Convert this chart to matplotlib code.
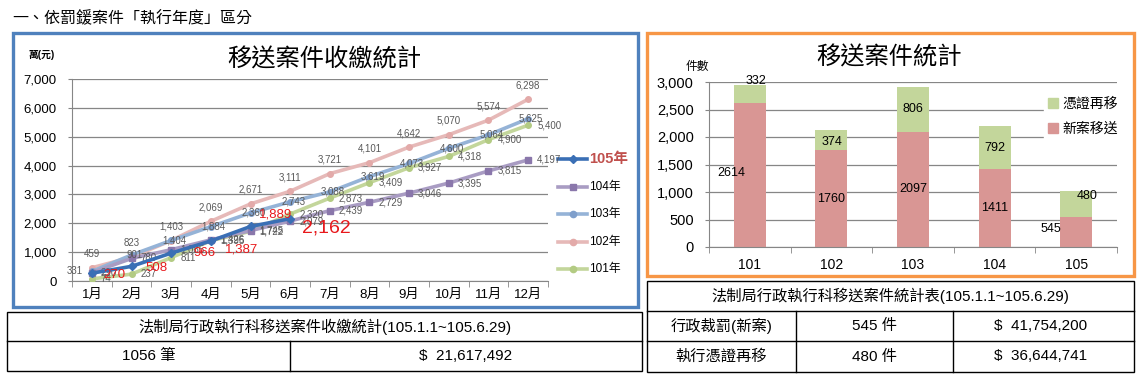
import matplotlib
matplotlib.use('Agg')
import matplotlib.pyplot as plt
from matplotlib.patches import Rectangle, Patch
import numpy as np

plt.rcParams['font.family'] = ['Liberation Sans', 'Noto Sans CJK TC', 'DejaVu Sans']

W, H = 1139, 379

# ---- 資料 ----
months = ['1月', '2月', '3月', '4月', '5月', '6月', '7月', '8月', '9月', '10月', '11月', '12月']
y101 = [74, 237, 811, 1395, 1722, 2320, 2873, 3409, 3927, 4318, 4900, 5400]
y102 = [459, 823, 1403, 2069, 2671, 3111, 3721, 4101, 4642, 5070, 5574, 6298]
y103 = [331, 901, 1404, 1884, 2360, 2743, 3088, 3619, 4073, 4600, 5064, 5625]
y104 = [290, 780, 1085, 1426, 1745, 2079, 2439, 2729, 3046, 3395, 3815, 4197]
y105 = [270, 508, 966, 1387, 1889, 2162]

bar_years = ['101', '102', '103', '104', '105']
new_cases = [2614, 1760, 2097, 1411, 545]
re_cases = [332, 374, 806, 792, 480]

table1_title = '法制局行政執行科移送案件收繳統計(105.1.1~105.6.29)'
table1_row = ['1056 筆', '$  21,617,492']
table2_title = '法制局行政執行科移送案件統計表(105.1.1~105.6.29)'
table2_rows = [['行政裁罰(新案)', '545 件', '$  41,754,200'],
               ['執行憑證再移', '480 件', '$  36,644,741']]

PX = 0.72  # 1 px in points at dpi 100
GRID = '#868686'


def box(x0, y0, x1, y1):
    return [x0 / W, 1 - y1 / H, (x1 - x0) / W, (y1 - y0) / H]


fig = plt.figure(figsize=(W / 100, H / 100), dpi=100)

# 底層：像素座標的繪圖層（框線、表格、文字）
ov = fig.add_axes([0, 0, 1, 1], zorder=0)
ov.set_xlim(0, W)
ov.set_ylim(H, 0)
ov.axis('off')

ov.text(12, 17, '一、依罰鍰案件「執行年度」區分', fontsize=11.5, va='center', ha='left')
ov.add_patch(Rectangle((13, 33), 625, 274, fill=False, ec='#4f81bd', lw=2.4))
ov.add_patch(Rectangle((647, 33), 487, 243, fill=False, ec='#f79646', lw=2.4))

ov.text(324, 60, '移送案件收繳統計', fontsize=17.5, ha='center', va='center')
ov.text(42, 55, '萬(元)', fontsize=7, ha='center', va='center', fontweight='bold')
ov.text(889, 58, '移送案件統計', fontsize=17.5, ha='center', va='center')
ov.text(697, 67, '件數', fontsize=8.5, ha='center', va='center')

# ---- 折線圖 ----
ax1 = fig.add_axes(box(72, 79, 548, 281), zorder=1)
ax1.patch.set_alpha(0)
x = np.arange(12)
ax1.set_xlim(-0.5, 11.5)
ax1.set_ylim(0, 7000)
ax1.set_yticks(range(0, 7001, 1000))
ax1.set_yticklabels([f'{v:,}' for v in range(0, 7001, 1000)], fontsize=9.5)
ax1.yaxis.grid(True, color=GRID, lw=0.9)
ax1.set_axisbelow(True)
for s in ['top', 'right']:
    ax1.spines[s].set_visible(False)
for s in ['left', 'bottom']:
    ax1.spines[s].set_color(GRID)
ax1.set_xticks(x)
ax1.set_xticklabels(months, fontsize=9.5)
ax1.set_xticks(np.arange(-0.5, 12, 1), minor=True)
ax1.tick_params(axis='x', which='major', length=0, pad=6)
ax1.tick_params(axis='x', which='minor', length=4, color=GRID)
ax1.tick_params(axis='y', length=3, color=GRID, pad=8)

series = [
    (y102, '#e6b9b8', '#e3aaa9', 'o', (0, -14), 'center'),
    (y103, '#95b3d7', '#7f9fcb', 'o', (3, 0), 'center'),
    (y101, '#c3d69b', '#b3cb83', 'o', (9, 0), 'left'),
    (y104, '#a99cc3', '#8a77ab', 's', (9, 0), 'left'),
]
for ys, col, mcol, mk, (dx, dy), ha in series:
    ax1.plot(x[:len(ys)], ys, color=col, lw=2.6, marker=mk, ms=4,
             mfc=mcol, mec=mcol, zorder=3)
    for i, v in enumerate(ys):
        ox, oha = dx, ha
        if ys is y103 and i == 0:
            ox, oha = -9, 'right'
        ax1.annotate(f'{v:,}', (x[i], v), xytext=(ox * PX, -dy * PX),
                     textcoords='offset points', fontsize=7, color='#595959',
                     ha=oha, va='center', zorder=4)

ax1.plot(x[:len(y105)], y105, color='#3a6fb5', lw=2.6, marker='D', ms=4.5,
         zorder=5)
red_off = [(11, 2), (14, 2), (22, 0), (14, 9), (8, -12), (12, 9)]
for i, v in enumerate(y105):
    dx, dy = red_off[i]
    fs = 14 if i == len(y105) - 1 else 9.5
    ax1.annotate(f'{v:,}', (x[i], v), xytext=(dx * PX, -dy * PX),
                 textcoords='offset points', fontsize=fs, color='#e8191c',
                 ha='left', va='center', zorder=6)

# 折線圖圖例
leg = [('105年', '#3a6fb5', '#3a6fb5', 'D', 159),
       ('104年', '#a99cc3', '#8a77ab', 's', 187),
       ('103年', '#95b3d7', '#7f9fcb', 'o', 214),
       ('102年', '#e6b9b8', '#e3aaa9', 'o', 242),
       ('101年', '#c3d69b', '#b3cb83', 'o', 269)]
for name, col, mcol, mk, yy in leg:
    ov.plot([558, 587], [yy, yy], color=col, lw=2.6)
    ov.plot([572.5], [yy], marker=mk, ms=4.5, color=mcol)
    if name == '105年':
        ov.text(589, yy, name, fontsize=10.5, fontweight='bold',
                color='#c0504d', va='center', ha='left')
    else:
        ov.text(589, yy, name, fontsize=8.5, va='center', ha='left')

# ---- 長條圖 ----
ax2 = fig.add_axes(box(709, 82, 1117, 247), zorder=1)
ax2.patch.set_alpha(0)
xb = np.arange(len(bar_years))
bw = 0.39
ax2.bar(xb, new_cases, width=bw, color='#d99694', zorder=2)
ax2.bar(xb, re_cases, bottom=new_cases, width=bw, color='#c3d69b', zorder=2)
ax2.set_xlim(-0.5, 4.5)
ax2.set_ylim(0, 3000)
ax2.set_yticks(range(0, 3001, 500))
ax2.set_yticklabels([f'{v:,}' for v in range(0, 3001, 500)], fontsize=10.5)
ax2.yaxis.grid(True, color=GRID, lw=0.9)
ax2.set_axisbelow(True)
for s in ['top', 'right']:
    ax2.spines[s].set_visible(False)
for s in ['left', 'bottom']:
    ax2.spines[s].set_color(GRID)
ax2.set_xticks(xb)
ax2.set_xticklabels(bar_years, fontsize=10)
ax2.set_xticks(np.arange(-0.5, 5, 1), minor=True)
ax2.tick_params(axis='x', which='major', length=0, pad=8)
ax2.tick_params(axis='x', which='minor', length=4, color=GRID)
ax2.tick_params(axis='y', length=3, color=GRID, pad=8)

new_off = [(-18, -2), (0, 0), (0, 0), (0, 0), (-25, -3)]
re_off = [(6, -13), (1, 2), (0, 0), (0, 0), (11, -8)]
for i in range(len(bar_years)):
    dx, dy = new_off[i]
    ax2.annotate(str(new_cases[i]), (xb[i], new_cases[i] / 2),
                 xytext=(dx * PX, -dy * PX), textcoords='offset points',
                 fontsize=9, ha='center', va='center', zorder=4)
    dx, dy = re_off[i]
    ax2.annotate(str(re_cases[i]), (xb[i], new_cases[i] + re_cases[i] / 2),
                 xytext=(dx * PX, -dy * PX), textcoords='offset points',
                 fontsize=9, ha='center', va='center', zorder=4)

handles = [Patch(color='#c3d69b'), Patch(color='#d99694')]
lg = ax2.legend(handles, ['憑證再移', '新案移送'], loc='upper left',
                bbox_to_anchor=(1037 / W, 1 - 86 / H), bbox_transform=fig.transFigure,
                fontsize=10, frameon=True, facecolor='white', edgecolor='white',
                framealpha=1, fancybox=False, handlelength=0.7, handleheight=0.7,
                handletextpad=0.3, labelspacing=0.75, borderpad=0.3)

# ---- 表格 ----
ov.add_patch(Rectangle((7, 312), 635, 59, fill=False, ec='black', lw=1))
ov.plot([7, 642], [341, 341], color='black', lw=1)
ov.plot([290, 290], [341, 371], color='black', lw=1)
ov.text(324.5, 326.5, table1_title, fontsize=11, ha='center', va='center')
ov.text(148.5, 356, table1_row[0], fontsize=11, ha='center', va='center')
ov.text(466, 356, table1_row[1], fontsize=11, ha='center', va='center')

ov.add_patch(Rectangle((647, 281), 487, 91, fill=False, ec='black', lw=1))
ov.plot([647, 1134], [311, 311], color='black', lw=1)
ov.plot([647, 1134], [341, 341], color='black', lw=1)
ov.plot([796, 796], [311, 372], color='black', lw=1)
ov.plot([953, 953], [311, 372], color='black', lw=1)
ov.text(890, 296, table2_title, fontsize=11, ha='center', va='center')
col_cx = [721.5, 874.5, 1041]
for r, row in enumerate(table2_rows):
    for c, txt in enumerate(row):
        ov.text(col_cx[c], 326 + 30.5 * r, txt, fontsize=11, ha='center', va='center')

fig.savefig('out.png', dpi=100)
